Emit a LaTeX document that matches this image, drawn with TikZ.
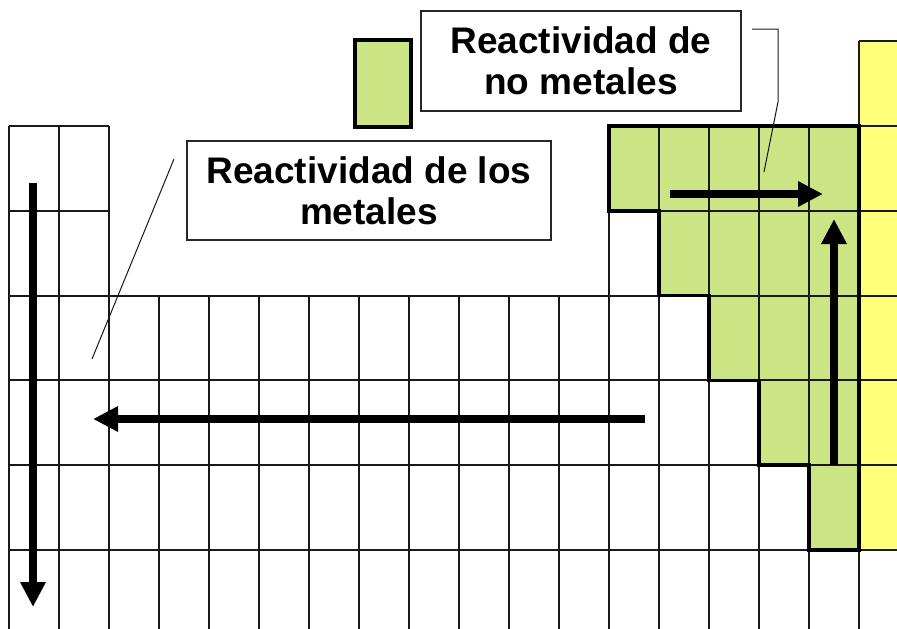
\documentclass[tikz,border=0pt]{standalone}
\usepackage{fontspec}
\setmainfont{Liberation Sans}
\usetikzlibrary{arrows.meta}
\definecolor{nmgreen}{RGB}{204,229,132}
\definecolor{ylw}{RGB}{255,255,122}
\begin{document}
\begin{tikzpicture}[x=1pt,y=-1pt,
  gridline/.style={line width=2pt, draw=black!90},
  bord/.style={line width=3.6pt, draw=black, line join=miter},
  bigarrow/.style={line width=8pt, -{Triangle[length=25pt,width=24pt]}},
  labelbox/.style={draw=black!85, line width=1.4pt, fill=white, align=center,
    font=\fontsize{37}{41}\selectfont\bfseries, inner sep=0pt},
  callout/.style={line width=1pt, draw=black!90}]
\useasboundingbox (0,0) rectangle (897,629);
\fill[white] (0,0) rectangle (897,629);
% fills
\fill[ylw] (859,41) rectangle (897,550);
\fill[nmgreen] (609,126) -- (859,126) -- (859,550) -- (809,550) -- (809,465.2) -- (759,465.2)
  -- (759,380.4) -- (709,380.4) -- (709,295.6) -- (659,295.6) -- (659,210.8) -- (609,210.8) -- cycle;
% grid
\foreach \x in {9,59,109} \draw[gridline] (\x,126) -- (\x,629);
\foreach \y in {126,210.8} \draw[gridline] (9,\y) -- (109,\y);
\foreach \x in {159,209,...,559} \draw[gridline] (\x,295.6) -- (\x,629);
\foreach \x in {609,659,...,809} \draw[gridline] (\x,126) -- (\x,629);
\draw[gridline] (859,41) -- (859,629);
\foreach \y in {295.6,380.4,465.2,550} \draw[gridline] (9,\y) -- (897,\y);
\foreach \y in {126,210.8} \draw[gridline] (609,\y) -- (897,\y);
\draw[gridline] (859,41) -- (897,41);
% thick border of non-metals
\draw[bord] (609,126) -- (859,126) -- (859,550) -- (809,550) -- (809,465.2) -- (759,465.2)
  -- (759,380.4) -- (709,380.4) -- (709,295.6) -- (659,295.6) -- (659,210.8) -- (609,210.8) -- cycle;
% legend swatch
\draw[bord, line width=4pt, fill=nmgreen] (355,40) rectangle (411,127);
% arrows
\coordinate (a1s) at (33,183); \coordinate (a1e) at (33,607);
\coordinate (a2s) at (645,419); \coordinate (a2e) at (93,419);
\coordinate (a3s) at (670,194); \coordinate (a3e) at (823,194);
\coordinate (a4s) at (834,465); \coordinate (a4e) at (834,219);
\draw[bigarrow] (a1s) -- (a1e);
\draw[bigarrow] (a2s) -- (a2e);
\draw[bigarrow] (a3s) -- (a3e);
\draw[bigarrow] (a4s) -- (a4e);
% callouts
\coordinate (c1a) at (752,29); \coordinate (c1b) at (778,29);
\coordinate (c1c) at (778,102); \coordinate (c1d) at (764,172);
\draw[callout] (c1a) -- (c1b) -- (c1c) -- (c1d);
\coordinate (c2a) at (174,159); \coordinate (c2b) at (92,359);
\draw[callout] (c2a) -- (c2b);
% label boxes
\node[labelbox, minimum width=320pt, minimum height=100pt] (nm) at (581,61) {Reactividad de\\no metales};
\node[labelbox, minimum width=364pt, minimum height=99pt] (met) at (369,190.5) {Reactividad de los\\metales};
\end{tikzpicture}
\end{document}
